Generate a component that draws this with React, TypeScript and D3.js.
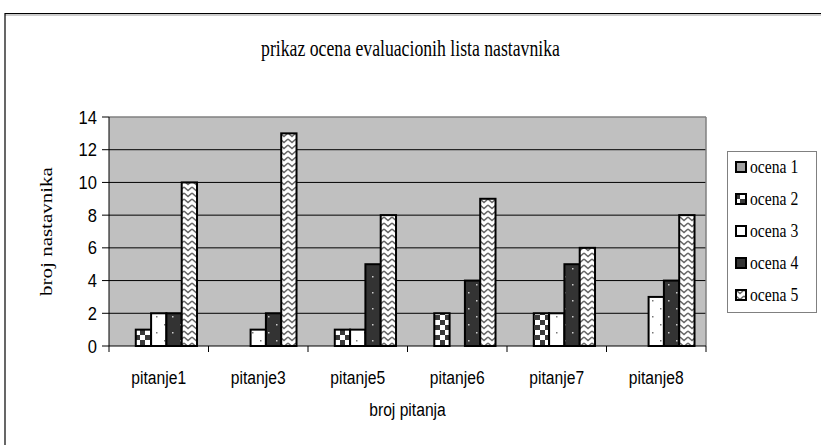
import React from 'react';
import * as d3 from 'd3';

const categories = ['pitanje1', 'pitanje3', 'pitanje5', 'pitanje6', 'pitanje7', 'pitanje8'];
const seriesNames = ['ocena 1', 'ocena 2', 'ocena 3', 'ocena 4', 'ocena 5'];
const ocena1 = [0, 0, 0, 0, 0, 0];
const ocena2 = [1, 0, 1, 2, 2, 0];
const ocena3 = [2, 1, 1, 0, 2, 3];
const ocena4 = [2, 2, 5, 4, 5, 4];
const ocena5 = [10, 13, 8, 9, 6, 8];
const yTicks = [0, 2, 4, 6, 8, 10, 12, 14];
const titleText = 'prikaz ocena evaluacionih lista nastavnika';
const xTitle = 'broj pitanja';
const yTitle = 'broj nastavnika';

const seriesValues = [ocena1, ocena2, ocena3, ocena4, ocena5];
const patternIds = ['p1', 'p2', 'p3', 'p4', 'p5'];

const W = 821;
const H = 445;
const plot = { left: 109, right: 706, top: 117, bottom: 346 };
const SX = 0.87;
const serif = "'Liberation Serif', 'Times New Roman', serif";
const sans = "'Liberation Sans', Arial, sans-serif";

export default function App() {
  const x = d3.scaleBand<string>().domain(categories).range([plot.left, plot.right]).padding(0);
  const xs = d3.scaleBand<string>().domain(seriesNames).range([0, x.step()]).paddingInner(0).paddingOuter(0.75);
  const y = d3.scaleLinear().domain([0, 14]).range([plot.bottom, plot.top]);

  const bars: JSX.Element[] = [];
  seriesValues.forEach((vals, si) => {
    vals.forEach((v, ci) => {
      if (v <= 0) return;
      const bx = (x(categories[ci]) as number) + (xs(seriesNames[si]) as number);
      bars.push(
        <rect
          key={`b${si}-${ci}`}
          x={bx}
          y={y(v)}
          width={xs.bandwidth()}
          height={y(0) - y(v)}
          fill={`url(#${patternIds[si]})`}
          stroke="#000"
          strokeWidth={2}
        />
      );
    });
  });

  const catTicks = [...categories.map((c) => x(c) as number), plot.right];

  return (
    <svg width={W} height={H} style={{ position: 'absolute', left: 0, top: 0, background: '#fff' }}>
      <defs>
        <pattern id="p1" patternUnits="userSpaceOnUse" width={8} height={8}>
          <rect width={8} height={8} fill="#a0a0a0" />
        </pattern>
        <pattern id="p2" patternUnits="userSpaceOnUse" width={10} height={10}>
          <rect width={10} height={10} fill="#fff" />
          <rect x={0} y={0} width={5} height={5} fill="#3a3a3a" />
          <rect x={5} y={5} width={5} height={5} fill="#3a3a3a" />
        </pattern>
        <pattern id="p3" patternUnits="userSpaceOnUse" width={16} height={16}>
          <rect width={16} height={16} fill="#fff" />
          <rect x={4} y={4} width={1.5} height={1.5} fill="#777" />
          <rect x={12} y={12} width={1.5} height={1.5} fill="#777" />
        </pattern>
        <pattern id="p4" patternUnits="userSpaceOnUse" width={16} height={16}>
          <rect width={16} height={16} fill="#333" />
          <rect x={4} y={4} width={1.5} height={1.5} fill="#ccc" />
          <rect x={12} y={12} width={1.5} height={1.5} fill="#ccc" />
        </pattern>
        <pattern id="p5" patternUnits="userSpaceOnUse" width={8} height={6}>
          <rect width={8} height={6} fill="#fff" />
          <path d="M0,1 L4,4.5 L8,1" fill="none" stroke="#666" strokeWidth={1.6} />
        </pattern>
      </defs>

      {/* outer chart border */}
      <line x1={5} x2={W} y1={13.5} y2={13.5} stroke="#000" strokeWidth={1.2} />
      <line x1={5} x2={W} y1={15} y2={15} stroke="#999" strokeWidth={1} />
      <line x1={5} x2={5} y1={13} y2={H} stroke="#000" strokeWidth={1.2} />

      {/* title */}
      <text
        transform={`translate(${W / 2},56) scale(0.77,1)`}
        textAnchor="middle"
        fontFamily={serif}
        fontSize={23}
        fill="#000"
      >
        {titleText}
      </text>

      {/* plot area */}
      <rect x={plot.left} y={plot.top} width={plot.right - plot.left} height={plot.bottom - plot.top} fill="#c0c0c0" />
      {yTicks.slice(1, -1).map((t) => (
        <line key={`g${t}`} x1={plot.left} x2={plot.right} y1={y(t)} y2={y(t)} stroke="#000" strokeWidth={1} />
      ))}
      <line x1={plot.left} x2={plot.right} y1={plot.top} y2={plot.top} stroke="#808080" strokeWidth={1.5} />
      <line x1={plot.right} x2={plot.right} y1={plot.top} y2={plot.bottom} stroke="#808080" strokeWidth={1.5} />

      {bars}

      {/* axes */}
      <line x1={plot.left} x2={plot.left} y1={plot.top} y2={plot.bottom} stroke="#000" strokeWidth={1} />
      <line x1={plot.left} x2={plot.right} y1={plot.bottom} y2={plot.bottom} stroke="#000" strokeWidth={1} />
      {yTicks.map((t) => (
        <g key={`yt${t}`}>
          <line x1={plot.left - 7} x2={plot.left} y1={y(t)} y2={y(t)} stroke="#000" strokeWidth={1} />
          <text
            transform={`translate(${plot.left - 12},${y(t) + 6.5}) scale(0.92,1)`}
            textAnchor="end"
            fontFamily={sans}
            fontSize={18}
            fill="#000"
          >
            {t}
          </text>
        </g>
      ))}
      {catTicks.map((cx, i) => (
        <line key={`xt${i}`} x1={cx} x2={cx} y1={plot.bottom} y2={plot.bottom + 6} stroke="#000" strokeWidth={1} />
      ))}
      {categories.map((c) => (
        <text
          key={`xl${c}`}
          transform={`translate(${(x(c) as number) + x.bandwidth() / 2},384) scale(${SX},1)`}
          textAnchor="middle"
          fontFamily={sans}
          fontSize={18}
          fill="#000"
        >
          {c}
        </text>
      ))}

      {/* axis titles */}
      <text
        transform={`translate(${(plot.left + plot.right) / 2},416) scale(${SX},1)`}
        textAnchor="middle"
        fontFamily={sans}
        fontSize={18}
        fill="#000"
      >
        {xTitle}
      </text>
      <text
        transform={`translate(52,${(plot.top + plot.bottom) / 2}) scale(0.83,1) rotate(-90)`}
        textAnchor="middle"
        fontFamily={serif}
        fontSize={21}
        fill="#000"
      >
        {yTitle}
      </text>

      {/* legend */}
      <rect x={727.5} y={151.5} width={89} height={161} fill="#fff" stroke="#808080" strokeWidth={1} />
      {seriesNames.map((s, i) => (
        <g key={`lg${s}`} transform={`translate(0,${167 + i * 32})`}>
          <rect x={736} y={-5} width={10} height={10} fill={`url(#${patternIds[i]})`} stroke="#000" strokeWidth={2} />
          <text
            transform={`translate(750,6) scale(${SX},1)`}
            fontFamily={serif}
            fontSize={18}
            fill="#000"
          >
            {s}
          </text>
        </g>
      ))}
    </svg>
  );
}
